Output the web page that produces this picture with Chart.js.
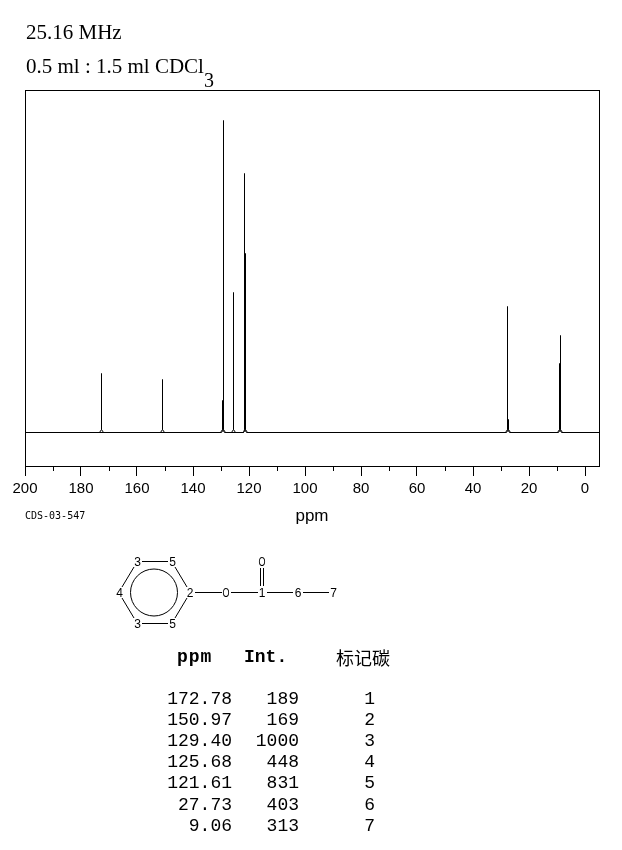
<!DOCTYPE html>
<html>
<head>
<meta charset="utf-8">
<title>25.16 MHz</title>
<script src="https://cdn.jsdelivr.net/npm/chart.js@4"></script>
<style>
  html, body { margin: 0; padding: 0; background: #fff; }
  body { position: relative; width: 622px; height: 850px; overflow: hidden; color: #000; }
  canvas { position: absolute; left: 0; top: 0; }
  .txt { position: absolute; white-space: pre; line-height: 1; }
  .head { font-family: "Liberation Serif", serif; font-size: 21px; }
  .mono { font-family: "Liberation Mono", monospace; font-size: 18px; }
  .cell { width: 80px; text-align: right; }
  svg { position: absolute; left: 0; top: 0; }
  svg text { font-family: "Liberation Sans", sans-serif; font-size: 12px; text-anchor: middle; dominant-baseline: central; }
  svg line, svg circle { stroke: #000; stroke-width: 1; fill: none; }
</style>
</head>
<body>
<canvas id="myChart" width="622" height="850"></canvas>

<div class="txt head" style="left:26px;top:22px">25.16 MHz</div>
<div class="txt head" style="left:26px;top:56px">0.5 ml : 1.5 ml CDCl</div>
<div class="txt head" style="left:204px;top:70px;font-size:20px">3</div>
<div class="txt" style="left:25px;top:510px;font:10px 'DejaVu Sans Mono',monospace">CDS-03-547</div>

<svg width="622" height="850">
  <circle cx="154" cy="592.5" r="23.5"></circle>
  <line x1="142" y1="561.5" x2="168" y2="561.5"></line>
  <line x1="142" y1="623.5" x2="168" y2="623.5"></line>
  <line x1="175" y1="567" x2="187" y2="587"></line>
  <line x1="175" y1="618" x2="187" y2="598"></line>
  <line x1="134" y1="567" x2="122" y2="587"></line>
  <line x1="134" y1="618" x2="122" y2="598"></line>
  <line x1="195" y1="592.5" x2="222" y2="592.5"></line>
  <line x1="231" y1="592.5" x2="258" y2="592.5"></line>
  <line x1="267" y1="592.5" x2="293" y2="592.5"></line>
  <line x1="303" y1="592.5" x2="329" y2="592.5"></line>
  <line x1="260.5" y1="568" x2="260.5" y2="586"></line>
  <line x1="263.5" y1="568" x2="263.5" y2="586"></line>
  <text x="137.5" y="562">3</text>
  <text x="172.5" y="562">5</text>
  <text x="119.5" y="593">4</text>
  <text x="190" y="593">2</text>
  <text x="137.5" y="624">3</text>
  <text x="172.5" y="624">5</text>
  <text x="226" y="593" textLength="7" lengthAdjust="spacingAndGlyphs">O</text>
  <text x="262" y="593">1</text>
  <text x="298" y="593">6</text>
  <text x="333.5" y="593">7</text>
  <text x="262" y="562" textLength="7" lengthAdjust="spacingAndGlyphs">O</text>
</svg>

<div id="peakTable"></div>

<script>
// peak list, same values as the printed table
const peakPpm = [172.78, 150.97, 129.40, 125.68, 121.61, 27.73, 9.06];
const peakInt = [189, 169, 1000, 448, 831, 403, 313];
const carbonNo = [1, 2, 3, 4, 5, 6, 7];

// weaker lines sitting right beside the big ones
const shoulderPpm = [129.7, 121.3, 27.4, 9.4];
const shoulderInt = [104, 576, 43, 220];

const majorTicks = [200, 180, 160, 140, 120, 100, 80, 60, 40, 20, 0];
const minorTicks = [190, 170, 150, 130, 110, 90, 70, 50, 30, 10];

const ppmMax = 200;
const ppmMin = -5;
const footPpm = 0.7;
const footInt = 10;

// baseline plus one spike per peak, ppm going down
function buildTrace(ppms, ints) {
  const pts = [{ x: ppmMax, y: 0 }];
  ppms.forEach((p, i) => {
    pts.push({ x: p + footPpm, y: 0 });
    pts.push({ x: p, y: footInt });
    pts.push({ x: p, y: ints[i] });
    pts.push({ x: p, y: footInt });
    pts.push({ x: p - footPpm, y: 0 });
  });
  pts.push({ x: ppmMin, y: 0 });
  return pts;
}

// keep the 1px lines sharp, the original is a bitmap
const snapPoints = {
  id: "snapPoints",
  afterDatasetsUpdate(chart) {
    chart.data.datasets.forEach((ds, i) => {
      chart.getDatasetMeta(i).data.forEach(pt => {
        pt.x = Math.round(pt.x) + 0.5;
        pt.y = Math.round(pt.y - 0.5) + 0.5;
      });
    });
  }
};

const frame = {
  id: "frame",
  afterDraw(chart) {
    const ctx = chart.ctx;
    const a = chart.chartArea;
    const xs = chart.scales.x;
    ctx.save();
    ctx.strokeStyle = "#000";
    ctx.lineWidth = 1;
    ctx.strokeRect(a.left + 0.5, a.top + 0.5, a.right - a.left, a.bottom - a.top);
    ctx.beginPath();
    minorTicks.forEach(v => {
      const px = Math.round(xs.getPixelForValue(v)) + 0.5;
      ctx.moveTo(px, a.bottom);
      ctx.lineTo(px, a.bottom + 5);
    });
    ctx.stroke();
    ctx.restore();
  }
};

const ctx = document.getElementById("myChart").getContext("2d");
const chart = new Chart(ctx, {
  type: "line",
  data: {
    datasets: [
      { data: buildTrace(peakPpm, peakInt), borderColor: "#000", borderWidth: 1, pointRadius: 0, tension: 0 },
      { data: buildTrace(shoulderPpm, shoulderInt), borderColor: "#000", borderWidth: 1, pointRadius: 0, tension: 0 }
    ]
  },
  options: {
    responsive: false,
    animation: false,
    layout: { padding: { left: 25, right: 23, top: 90, bottom: 323 } },
    plugins: { legend: { display: false }, tooltip: { enabled: false } },
    scales: {
      x: {
        type: "linear",
        reverse: true,
        min: ppmMin,
        max: ppmMax,
        afterFit(scale) { scale.height = 61; },
        afterBuildTicks(scale) { scale.ticks = majorTicks.map(v => ({ value: v })); },
        border: { display: false },
        grid: { drawOnChartArea: false, drawTicks: true, tickLength: 10, color: "#000", tickColor: "#000" },
        ticks: {
          autoSkip: false,
          maxRotation: 0,
          padding: 4,
          color: "#000",
          font: { family: "Liberation Sans", size: 15 }
        },
        title: {
          display: true,
          text: "ppm",
          color: "#000",
          font: { family: "Liberation Sans", size: 17 },
          padding: 0
        }
      },
      y: {
        display: false,
        min: -107.5,
        max: 1099.5
      }
    }
  },
  plugins: [snapPoints, frame]
});

// printed peak table
const table = document.getElementById("peakTable");

function addText(cls, text, left, top, style) {
  const d = document.createElement("div");
  d.className = "txt " + cls;
  d.textContent = text;
  d.style.left = left + "px";
  d.style.top = top + "px";
  if (style) d.style.cssText += style;
  table.appendChild(d);
}

addText("mono", "ppm", 177, 648, "font-weight:bold;letter-spacing:1px");
addText("mono", "Int.", 244, 648, "font-weight:bold");
addText("mono", "标记碳", 336, 648, "font-family:'Noto Sans CJK SC',sans-serif");

peakPpm.forEach((p, i) => {
  const top = 690 + i * 21.1;
  addText("mono cell", p.toFixed(2), 152, top);
  addText("mono cell", String(peakInt[i]), 219, top);
  addText("mono cell", String(carbonNo[i]), 295, top);
});
</script>
</body>
</html>
